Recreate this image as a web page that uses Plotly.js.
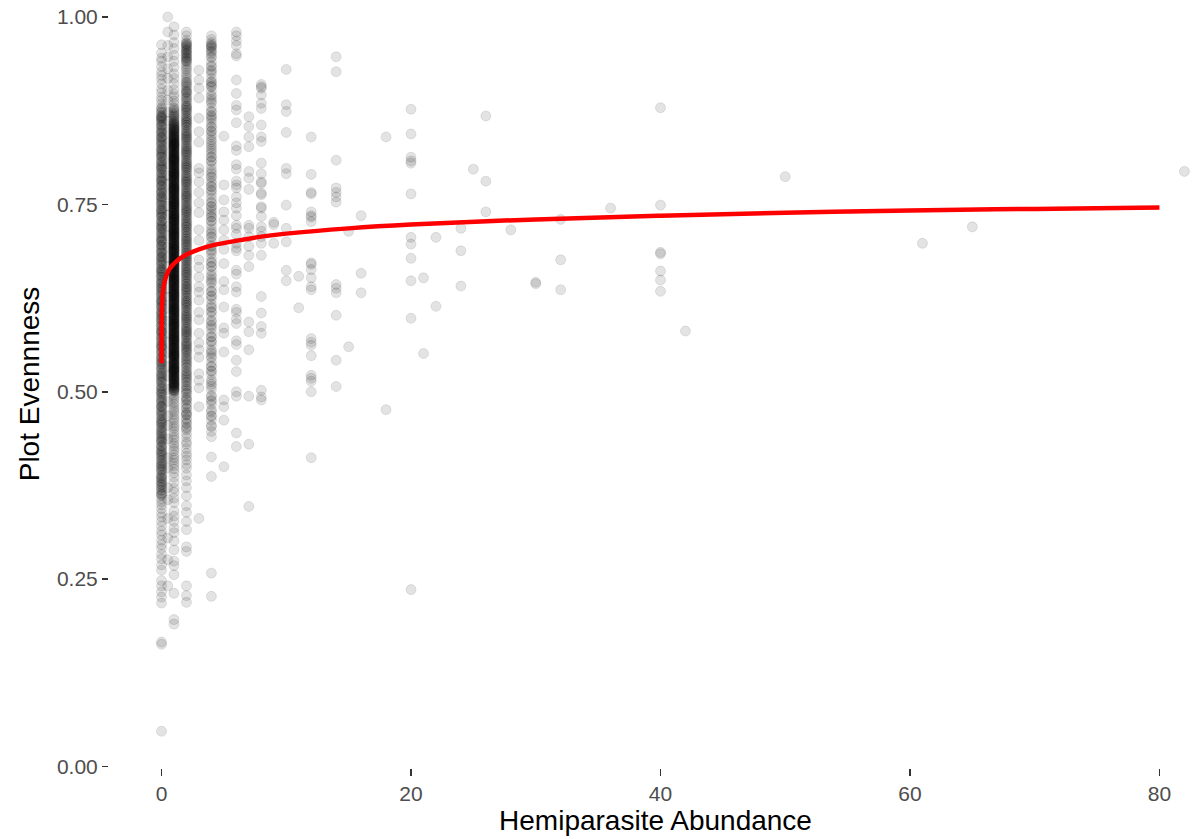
<!DOCTYPE html>
<html>
<head>
<meta charset="utf-8">
<script src="https://cdn.plot.ly/plotly-3.0.1.min.js"></script>
<style>
  html, body { margin: 0; padding: 0; background: #ffffff; }
  #chart { width: 1202px; height: 839px; }
</style>
</head>
<body>
<div id="chart"></div>
<script>
// Plot evenness by hemiparasite abundance, one array of evenness values per abundance column.
const evenAt0 = [0.047, 0.163, 0.166, 0.218, 0.226, 0.233, 0.241, 0.248, 0.262, 0.269, 0.277, 0.283, 0.291, 0.296, 0.302, 0.309, 0.314, 0.321, 0.327, 0.333, 0.338, 0.344, 0.349,
  0.353, 0.357, 0.362, 0.364, 0.369, 0.372, 0.376, 0.379, 0.384, 0.386, 0.389, 0.394, 0.397, 0.401, 0.404, 0.408, 0.411, 0.415, 0.418, 0.421, 0.426, 0.428, 0.433, 0.435, 0.438, 0.443, 0.446, 0.449, 0.452, 0.457, 0.459,
  0.463, 0.468, 0.471, 0.474, 0.479, 0.481, 0.486, 0.489, 0.492, 0.497, 0.499, 0.504, 0.507, 0.512, 0.514, 0.518, 0.522, 0.525, 0.53, 0.532, 0.537, 0.539, 0.544, 0.546,
  0.551, 0.553, 0.558, 0.561, 0.563, 0.567, 0.571, 0.572, 0.577, 0.58, 0.582, 0.587, 0.589, 0.592, 0.596, 0.598, 0.603, 0.605, 0.608, 0.612, 0.614, 0.618, 0.621, 0.623, 0.628, 0.63, 0.633, 0.637, 0.639, 0.644, 0.646, 0.649, 0.653, 0.655, 0.659, 0.662, 0.664, 0.669, 0.671, 0.674, 0.678, 0.68, 0.685, 0.687, 0.69, 0.694, 0.696, 0.701, 0.703, 0.706, 0.71, 0.712, 0.717, 0.719, 0.722, 0.726, 0.728, 0.733, 0.735, 0.738, 0.742, 0.744, 0.749, 0.751, 0.754, 0.758, 0.76, 0.765, 0.767, 0.77, 0.774, 0.776, 0.781, 0.783, 0.786, 0.79, 0.792, 0.797, 0.799, 0.802, 0.806, 0.808, 0.813, 0.815, 0.818, 0.822, 0.824, 0.829, 0.831, 0.834, 0.838, 0.84, 0.845, 0.847, 0.85, 0.854, 0.856, 0.861, 0.864, 0.866, 0.867, 0.869, 0.873,
  0.878, 0.884, 0.889, 0.893, 0.899, 0.904, 0.911, 0.917, 0.922, 0.927, 0.934, 0.941, 0.945, 0.952, 0.963,
  0.3615, 0.3648, 0.3682, 0.3727, 0.3759, 0.3793, 0.3815, 0.3848, 0.3882, 0.3927, 0.3959, 0.3993,
  0.4015, 0.4048, 0.4082, 0.4127, 0.4159, 0.4193, 0.4215, 0.4248, 0.4282, 0.4327, 0.4359, 0.4393, 0.4415, 0.4448, 0.4482, 0.4527, 0.4559, 0.4593, 0.4615, 0.4648, 0.4682, 0.4727, 0.4759, 0.4793, 0.4815, 0.4848, 0.4882, 0.4927, 0.4959, 0.4993,
  0.5015, 0.5048, 0.5082, 0.5127, 0.5159, 0.5193, 0.5215, 0.5248, 0.5282, 0.5327, 0.5359, 0.5393, 0.5415, 0.5448, 0.5482, 0.5527, 0.5559, 0.5593, 0.5615, 0.5648, 0.5682, 0.5727, 0.5759, 0.5793, 0.5815, 0.5848, 0.5882, 0.5927, 0.5959, 0.5993,
  0.6015, 0.6048, 0.6082, 0.6127, 0.6159, 0.6193, 0.6215, 0.6248, 0.6282, 0.6327, 0.6359, 0.6393, 0.6415, 0.6448, 0.6482, 0.6527, 0.6559, 0.6593, 0.6615, 0.6648, 0.6682, 0.6727, 0.6759, 0.6793, 0.6815, 0.6848, 0.6882, 0.6927, 0.6959, 0.6993,
  0.7015, 0.7048, 0.7082, 0.7127, 0.7159, 0.7193, 0.7215, 0.7248, 0.7282, 0.7327, 0.7359, 0.7393, 0.7415, 0.7448, 0.7482, 0.7527, 0.7559, 0.7593, 0.7615, 0.7648, 0.7682, 0.7727, 0.7759, 0.7793, 0.7815, 0.7848, 0.7882, 0.7927, 0.7959, 0.7993,
  0.8015, 0.8048, 0.8082, 0.8127, 0.8159, 0.8193, 0.8215, 0.8248, 0.8282, 0.8327, 0.8359, 0.8393, 0.8415, 0.8448, 0.8482, 0.8527, 0.8559, 0.8593, 0.8615, 0.8648, 0.8682, 0.8727, 0.8759, 0.8793];

const evenAtHalf = [0.241, 0.276, 0.305, 0.331, 0.356, 0.372, 0.398, 0.412, 0.437, 0.455, 0.468, 0.487, 0.503, 0.521, 0.534, 0.552, 0.566, 0.579, 0.594, 0.611, 0.626, 0.638, 0.652, 0.667, 0.679, 0.693, 0.708, 0.721, 0.736, 0.748, 0.763, 0.777, 0.789, 0.804, 0.818, 0.832, 0.846, 0.861, 0.873, 0.889, 0.902, 0.918, 0.931, 0.947, 0.962, 0.98, 1.0];

const evenAt1 = [0.19, 0.196, 0.231, 0.256, 0.268, 0.274, 0.289, 0.301, 0.312, 0.318, 0.327, 0.334, 0.341, 0.352, 0.358, 0.366, 0.371, 0.379, 0.386, 0.392, 0.397,
  0.401, 0.405, 0.409, 0.412, 0.416, 0.421, 0.424, 0.428, 0.431, 0.436, 0.439, 0.443, 0.447, 0.451, 0.454, 0.458, 0.462, 0.465, 0.469, 0.473, 0.476, 0.479, 0.483, 0.486, 0.49, 0.493, 0.496, 0.499,
  0.501, 0.503, 0.505, 0.507, 0.509, 0.511, 0.512, 0.514, 0.516, 0.517, 0.519, 0.52, 0.522, 0.523, 0.525, 0.526, 0.528, 0.529,
  0.53, 0.532, 0.533, 0.535, 0.536, 0.538, 0.539, 0.541, 0.542, 0.544, 0.545, 0.547, 0.548, 0.549, 0.551, 0.552, 0.554, 0.555, 0.557, 0.558, 0.559,
  0.561, 0.562, 0.564, 0.565, 0.567, 0.568, 0.57, 0.571, 0.573, 0.574, 0.576, 0.577, 0.578, 0.58, 0.581, 0.583, 0.584, 0.586, 0.587, 0.589,
  0.59, 0.592, 0.593, 0.595, 0.596, 0.598, 0.599, 0.601, 0.602, 0.603, 0.605, 0.606, 0.608, 0.609, 0.611, 0.612, 0.614, 0.615, 0.617, 0.618,
  0.62, 0.621, 0.622, 0.624, 0.625, 0.627, 0.628, 0.63, 0.631, 0.633, 0.634, 0.636, 0.637, 0.639, 0.64, 0.641, 0.643, 0.644, 0.646, 0.647, 0.649,
  0.65, 0.652, 0.653, 0.655, 0.656, 0.658, 0.659, 0.66, 0.662, 0.663, 0.665, 0.666, 0.668, 0.669, 0.671, 0.672, 0.674, 0.675, 0.677, 0.678,
  0.679, 0.681, 0.682, 0.684, 0.685, 0.687, 0.688, 0.69, 0.691, 0.693, 0.694, 0.696, 0.697, 0.698, 0.7, 0.701, 0.703, 0.704, 0.706, 0.707, 0.709,
  0.71, 0.712, 0.713, 0.715, 0.716, 0.717, 0.719, 0.72, 0.722, 0.723, 0.725, 0.726, 0.728, 0.729, 0.731, 0.732, 0.734, 0.735, 0.736, 0.738,
  0.739, 0.741, 0.742, 0.744, 0.745, 0.747, 0.748, 0.75, 0.751, 0.753, 0.754, 0.755, 0.757, 0.758, 0.76, 0.761, 0.763, 0.764, 0.766, 0.767, 0.769,
  0.77, 0.772, 0.773, 0.774, 0.776, 0.777, 0.779, 0.78, 0.782, 0.783, 0.785, 0.786, 0.788, 0.789, 0.791, 0.792, 0.793, 0.795, 0.796, 0.798,
  0.799, 0.801, 0.802, 0.804, 0.805, 0.807, 0.808, 0.81, 0.811, 0.812, 0.814, 0.815, 0.817, 0.818, 0.82, 0.821, 0.823, 0.824, 0.826, 0.827,
  0.829, 0.83, 0.831, 0.833, 0.834, 0.836, 0.837, 0.839, 0.84, 0.842, 0.844, 0.846, 0.848,
  0.851, 0.854, 0.857, 0.861, 0.864, 0.868, 0.872, 0.876, 0.879, 0.884, 0.888, 0.893, 0.897,
  0.903, 0.911, 0.918, 0.924, 0.933, 0.941, 0.949, 0.958, 0.966, 0.976, 0.987,
  0.5008, 0.5021, 0.5034, 0.5047, 0.5061, 0.5073, 0.5086, 0.5097, 0.5104, 0.5115, 0.5128, 0.5141, 0.5155, 0.5166, 0.5179, 0.5192,
  0.5208, 0.5221, 0.5234, 0.5247, 0.5261, 0.5273, 0.5286, 0.5297, 0.5304, 0.5315, 0.5328, 0.5341, 0.5355, 0.5366, 0.5379, 0.5392,
  0.5408, 0.5421, 0.5434, 0.5447, 0.5461, 0.5473, 0.5486, 0.5497, 0.5504, 0.5515, 0.5528, 0.5541, 0.5555, 0.5566, 0.5579, 0.5592,
  0.5608, 0.5621, 0.5634, 0.5647, 0.5661, 0.5673, 0.5686, 0.5697, 0.5704, 0.5715, 0.5728, 0.5741, 0.5755, 0.5766, 0.5779, 0.5792,
  0.5808, 0.5821, 0.5834, 0.5847, 0.5861, 0.5873, 0.5886, 0.5897, 0.5904, 0.5915, 0.5928, 0.5941, 0.5955, 0.5966, 0.5979, 0.5992,
  0.6008, 0.6021, 0.6034, 0.6047, 0.6061, 0.6073, 0.6086, 0.6097, 0.6104, 0.6115, 0.6128, 0.6141, 0.6155, 0.6166, 0.6179, 0.6192,
  0.6208, 0.6221, 0.6234, 0.6247, 0.6261, 0.6273, 0.6286, 0.6297, 0.6304, 0.6315, 0.6328, 0.6341, 0.6355, 0.6366, 0.6379, 0.6392,
  0.6408, 0.6421, 0.6434, 0.6447, 0.6461, 0.6473, 0.6486, 0.6497, 0.6504, 0.6515, 0.6528, 0.6541, 0.6555, 0.6566, 0.6579, 0.6592,
  0.6608, 0.6621, 0.6634, 0.6647, 0.6661, 0.6673, 0.6686, 0.6697, 0.6704, 0.6715, 0.6728, 0.6741, 0.6755, 0.6766, 0.6779, 0.6792,
  0.6808, 0.6821, 0.6834, 0.6847, 0.6861, 0.6873, 0.6886, 0.6897, 0.6904, 0.6915, 0.6928, 0.6941, 0.6955, 0.6966, 0.6979, 0.6992,
  0.7008, 0.7021, 0.7034, 0.7047, 0.7061, 0.7073, 0.7086, 0.7097, 0.7104, 0.7115, 0.7128, 0.7141, 0.7155, 0.7166, 0.7179, 0.7192,
  0.7208, 0.7221, 0.7234, 0.7247, 0.7261, 0.7273, 0.7286, 0.7297, 0.7304, 0.7315, 0.7328, 0.7341, 0.7355, 0.7366, 0.7379, 0.7392,
  0.7408, 0.7421, 0.7434, 0.7447, 0.7461, 0.7473, 0.7486, 0.7497, 0.7504, 0.7515, 0.7528, 0.7541, 0.7555, 0.7566, 0.7579, 0.7592,
  0.7608, 0.7621, 0.7634, 0.7647, 0.7661, 0.7673, 0.7686, 0.7697, 0.7704, 0.7715, 0.7728, 0.7741, 0.7755, 0.7766, 0.7779, 0.7792,
  0.7808, 0.7821, 0.7834, 0.7847, 0.7861, 0.7873, 0.7886, 0.7897, 0.7904, 0.7915, 0.7928, 0.7941, 0.7955, 0.7966, 0.7979, 0.7992,
  0.8008, 0.8021, 0.8034, 0.8047, 0.8061, 0.8073, 0.8086, 0.8097, 0.8104, 0.8115, 0.8128, 0.8141, 0.8155, 0.8166, 0.8179, 0.8192,
  0.8208, 0.8221, 0.8234, 0.8247, 0.8261, 0.8273, 0.8286, 0.8297, 0.8304, 0.8315, 0.8328, 0.8341, 0.8355, 0.8366, 0.8379, 0.8392,
  0.8408, 0.8421, 0.8434, 0.8447, 0.8461, 0.8473, 0.8486, 0.8497, 0.8504, 0.8515, 0.8528, 0.8541, 0.8555, 0.8566, 0.8579, 0.8592,
  0.8608, 0.8634, 0.8661, 0.8686, 0.8704, 0.8741, 0.8779];

const evenAt2 = [0.219, 0.228, 0.241, 0.287, 0.293, 0.316, 0.327, 0.339, 0.348, 0.361, 0.372, 0.381, 0.389, 0.398,
  0.403, 0.409, 0.414, 0.418, 0.424, 0.43, 0.433, 0.439, 0.444, 0.449, 0.453, 0.458, 0.464, 0.469, 0.473, 0.478, 0.484, 0.488, 0.493, 0.498, 0.503, 0.508, 0.513, 0.518, 0.523, 0.527, 0.532, 0.537, 0.543, 0.547,
  0.551, 0.554, 0.557, 0.561, 0.564, 0.567, 0.571, 0.574, 0.577, 0.58, 0.583, 0.586, 0.59, 0.593, 0.596, 0.599, 0.602, 0.606, 0.609, 0.612, 0.615, 0.618, 0.621, 0.625, 0.628, 0.631, 0.634, 0.637, 0.64, 0.644, 0.647, 0.65, 0.653, 0.656, 0.659, 0.663, 0.666, 0.669, 0.672, 0.675, 0.678, 0.682, 0.685, 0.688, 0.691, 0.694, 0.697, 0.701, 0.704, 0.707, 0.71, 0.713, 0.716, 0.72, 0.723, 0.726, 0.729, 0.732, 0.735, 0.739, 0.742, 0.745, 0.748, 0.751, 0.754, 0.758, 0.761, 0.764, 0.767, 0.77, 0.773, 0.777, 0.78, 0.783, 0.786, 0.789, 0.792, 0.796, 0.799, 0.802, 0.805, 0.808, 0.811, 0.815, 0.818, 0.821, 0.824, 0.827, 0.83, 0.834, 0.837, 0.84, 0.843, 0.846, 0.849, 0.853, 0.856, 0.859, 0.862, 0.865, 0.868, 0.872, 0.875, 0.878, 0.881, 0.884, 0.887, 0.891, 0.894, 0.897, 0.9, 0.903, 0.906, 0.91, 0.913, 0.916,
  0.922, 0.925, 0.929, 0.931, 0.934, 0.937, 0.94, 0.942, 0.944, 0.946, 0.948, 0.95, 0.952, 0.954, 0.956, 0.958, 0.96, 0.962, 0.964, 0.966, 0.969, 0.975, 0.98,
  0.4512, 0.4578, 0.4625, 0.4691, 0.4712, 0.4778, 0.4825, 0.4891, 0.4912, 0.4978,
  0.5012, 0.5045, 0.5078, 0.5125, 0.5158, 0.5191, 0.5212, 0.5245, 0.5278, 0.5325, 0.5358, 0.5391, 0.5412, 0.5445, 0.5478, 0.5525, 0.5558, 0.5591, 0.5612, 0.5645, 0.5678, 0.5725, 0.5758, 0.5791, 0.5812, 0.5845, 0.5878, 0.5925, 0.5958, 0.5991,
  0.6012, 0.6045, 0.6078, 0.6125, 0.6158, 0.6191, 0.6212, 0.6245, 0.6278, 0.6325, 0.6358, 0.6391, 0.6412, 0.6445, 0.6478, 0.6525, 0.6558, 0.6591, 0.6612, 0.6645, 0.6678, 0.6725, 0.6758, 0.6791, 0.6812, 0.6845, 0.6878, 0.6925, 0.6958, 0.6991,
  0.7012, 0.7045, 0.7078, 0.7125, 0.7158, 0.7191, 0.7212, 0.7245, 0.7278, 0.7325, 0.7358, 0.7391, 0.7412, 0.7445, 0.7478, 0.7525, 0.7558, 0.7591, 0.7612, 0.7645, 0.7678, 0.7725, 0.7758, 0.7791, 0.7812, 0.7845, 0.7878, 0.7925, 0.7958, 0.7991,
  0.8012, 0.8045, 0.8078, 0.8125, 0.8158, 0.8191, 0.8212, 0.8245, 0.8278, 0.8325, 0.8358, 0.8391, 0.8412, 0.8445, 0.8478, 0.8525, 0.8558, 0.8591, 0.8612, 0.8645, 0.8678, 0.8725, 0.8758, 0.8791,
  0.8812, 0.8878, 0.8925, 0.8991, 0.9012, 0.9078, 0.9125, 0.9191, 0.9412, 0.9458, 0.9512, 0.9558, 0.9612, 0.9645];

const evenAt3 = [0.929, 0.916, 0.905, 0.892, 0.865, 0.847, 0.833, 0.798, 0.792, 0.78, 0.766, 0.752, 0.739, 0.716, 0.702, 0.676, 0.666, 0.653, 0.64, 0.633, 0.622, 0.606, 0.596, 0.578, 0.565, 0.556, 0.546, 0.524, 0.515, 0.505, 0.48, 0.331];

const evenAt4 = [0.227, 0.258, 0.387, 0.413, 0.44, 0.447, 0.455, 0.462, 0.468, 0.476, 0.483, 0.489, 0.495, 0.503, 0.51, 0.516,
  0.523, 0.528, 0.534, 0.539, 0.545, 0.551, 0.556, 0.562, 0.567, 0.573, 0.578, 0.584, 0.589, 0.595, 0.601, 0.606, 0.612, 0.617, 0.623, 0.628, 0.634, 0.639, 0.645, 0.65, 0.656, 0.661, 0.667, 0.672, 0.678, 0.684, 0.689, 0.695, 0.7, 0.706, 0.711, 0.717, 0.722, 0.728, 0.733, 0.737, 0.74, 0.743, 0.747, 0.752, 0.758, 0.763, 0.769, 0.774, 0.778, 0.781, 0.786, 0.791, 0.797, 0.802, 0.808, 0.813, 0.818, 0.821, 0.824, 0.83, 0.836, 0.84, 0.843, 0.848, 0.853, 0.858, 0.862, 0.865, 0.869, 0.874, 0.879, 0.885, 0.89, 0.896, 0.901, 0.907, 0.91, 0.913, 0.918, 0.924, 0.929, 0.935, 0.94, 0.946, 0.951,
  0.955, 0.958, 0.96, 0.962, 0.964, 0.966, 0.97, 0.975,
  0.4535, 0.4672, 0.4735, 0.4872, 0.4935, 0.5072, 0.5135, 0.5272, 0.5335, 0.5472, 0.5535, 0.5672, 0.5735, 0.5872, 0.5935, 0.6072, 0.6135, 0.6272, 0.6335, 0.6472, 0.6535, 0.6672, 0.6735, 0.6872, 0.6935, 0.7072, 0.7135, 0.7272, 0.7335, 0.7472, 0.7535, 0.7672, 0.7735, 0.7872, 0.7935, 0.8072, 0.8135, 0.8272, 0.8335, 0.8472, 0.8535, 0.8672, 0.8735, 0.8872, 0.8935, 0.9072, 0.9135, 0.9272, 0.9335, 0.9472, 0.9535, 0.9612];

const evenAt5 = [0.841, 0.776, 0.756, 0.74, 0.729, 0.716, 0.702, 0.69, 0.671, 0.647, 0.636, 0.613, 0.585, 0.578, 0.553, 0.489, 0.48, 0.462, 0.4];

const evenAt6 = [0.98, 0.975, 0.968, 0.962, 0.951, 0.948, 0.916, 0.898, 0.882, 0.876, 0.859, 0.828, 0.822, 0.803, 0.797, 0.781, 0.776, 0.772, 0.76, 0.752, 0.745, 0.735, 0.722, 0.718, 0.71, 0.698, 0.692, 0.688, 0.662, 0.657, 0.64, 0.633, 0.61, 0.606, 0.597, 0.591, 0.568, 0.563, 0.542, 0.527, 0.5, 0.494, 0.445, 0.427];

const evenAt7 = [0.867, 0.854, 0.84, 0.827, 0.794, 0.785, 0.77, 0.722, 0.718, 0.707, 0.694, 0.682, 0.667, 0.593, 0.58, 0.556, 0.494, 0.43, 0.347];

const evenAt8 = [0.91, 0.907, 0.905, 0.896, 0.885, 0.878, 0.856, 0.84, 0.834, 0.805, 0.791, 0.78, 0.778, 0.765, 0.763, 0.747, 0.745, 0.734, 0.72, 0.714, 0.707, 0.698, 0.682, 0.627, 0.605, 0.587, 0.578, 0.502, 0.493, 0.489];

// Higher abundances, read as (abundance, evenness) pairs.
const highAbund = [9, 9, 9,
  10, 10, 10, 10, 10, 10, 10, 10, 10, 10, 10,
  11, 11,
  12, 12, 12, 12, 12, 12, 12, 12, 12, 12, 12, 12, 12, 12, 12, 12, 12, 12, 12, 12, 12, 12, 12,
  14, 14, 14, 14, 14, 14, 14, 14, 14, 14, 14, 14, 14,
  15, 15, 16, 16, 16, 18, 18,
  20, 20, 20, 20, 20, 20, 20, 20, 20, 20, 20, 20,
  21, 21, 22, 22, 24, 24, 24, 25, 26, 26, 26, 28, 30, 30, 32, 32, 32, 36,
  40, 40, 40, 40, 40, 40, 40, 42, 50, 61, 65, 82];
const highEven = [0.726, 0.723, 0.698,
  0.93, 0.883, 0.874, 0.846, 0.798, 0.791, 0.749, 0.718, 0.7, 0.662, 0.648,
  0.654, 0.612,
  0.84, 0.79, 0.766, 0.764, 0.74, 0.735, 0.733, 0.727, 0.672, 0.67, 0.663, 0.652, 0.64, 0.636, 0.571, 0.566, 0.562, 0.548, 0.522, 0.518, 0.514, 0.5, 0.412,
  0.947, 0.927, 0.809, 0.772, 0.766, 0.76, 0.753, 0.643, 0.638, 0.632, 0.602, 0.542, 0.507,
  0.714, 0.56, 0.735, 0.658, 0.632, 0.84, 0.476,
  0.877, 0.844, 0.813, 0.808, 0.805, 0.764, 0.706, 0.697, 0.678, 0.648, 0.598, 0.236,
  0.652, 0.551, 0.706, 0.614, 0.718, 0.688, 0.641, 0.797, 0.868, 0.781, 0.74, 0.716, 0.646, 0.644, 0.73, 0.676, 0.636, 0.745,
  0.879, 0.749, 0.686, 0.684, 0.661, 0.649, 0.634, 0.581, 0.787, 0.698, 0.72, 0.794];

// Fitted trend of evenness against abundance.
const fitAbund = [0, 0.002, 0.01, 0.03, 0.06, 0.1, 0.18, 0.3, 0.46, 0.7, 1, 1.5, 2, 3, 4, 5.5, 8, 10, 15, 20, 30, 40, 50, 60, 70, 80];
const fitEven = [0.538, 0.565, 0.59, 0.61, 0.622, 0.631, 0.641, 0.65, 0.658, 0.665, 0.671, 0.678, 0.683, 0.69, 0.695, 0.7, 0.707, 0.711, 0.718, 0.723, 0.73, 0.735, 0.739, 0.742, 0.744, 0.746];

const xTicks = [0, 20, 40, 60, 80];
const yTicks = [0, 0.25, 0.5, 0.75, 1];

// Gather the per-column arrays into one point set.
const columns = [
  [0, evenAt0], [0.5, evenAtHalf], [1, evenAt1], [2, evenAt2], [3, evenAt3],
  [4, evenAt4], [5, evenAt5], [6, evenAt6], [7, evenAt7], [8, evenAt8]
];
const px = [], py = [];
columns.forEach(([a, ys]) => ys.forEach(v => { px.push(a); py.push(v); }));
highAbund.forEach((a, i) => { px.push(a); py.push(highEven[i]); });

const points = {
  type: 'scatter', mode: 'markers', x: px, y: py,
  marker: { size: 10, color: 'rgba(0,0,0,0.11)', line: { width: 0.8, color: 'rgba(0,0,0,0.12)' } },
  hoverinfo: 'x+y', showlegend: false
};
const fit = {
  type: 'scatter', mode: 'lines', x: fitAbund, y: fitEven,
  line: { color: '#ff0000', width: 4.5, shape: 'spline' },
  hoverinfo: 'skip', showlegend: false
};

const tickFont = { family: '"Liberation Sans", Arial, sans-serif', size: 21, color: '#4d4d4d' };
const titleFont = { family: '"Liberation Sans", Arial, sans-serif', size: 28, color: '#000000' };

const layout = {
  width: 1202, height: 839,
  margin: { l: 109, r: 0, t: 0, b: 71, pad: 0 },
  paper_bgcolor: '#ffffff', plot_bgcolor: '#ffffff',
  xaxis: {
    range: [-4.21, 83.41], tickvals: xTicks, ticktext: xTicks.map(String),
    showgrid: false, zeroline: false, showline: false,
    ticks: 'outside', ticklen: 7, tickwidth: 1.5, tickcolor: '#333333',
    tickfont: tickFont,
    title: { text: 'Hemiparasite Abundance', font: titleFont, standoff: 3 }
  },
  yaxis: {
    range: [-0.002, 1.0227], tickvals: yTicks, ticktext: yTicks.map(v => v.toFixed(2)),
    showgrid: false, zeroline: false, showline: false,
    ticks: 'outside', ticklen: 6, tickwidth: 1.5, tickcolor: '#333333',
    tickfont: tickFont,
    title: { text: 'Plot Evennness', font: titleFont, standoff: 9 }
  }
};

Plotly.newPlot('chart', [points, fit], layout, { displayModeBar: false, staticPlot: true });
</script>
</body>
</html>
